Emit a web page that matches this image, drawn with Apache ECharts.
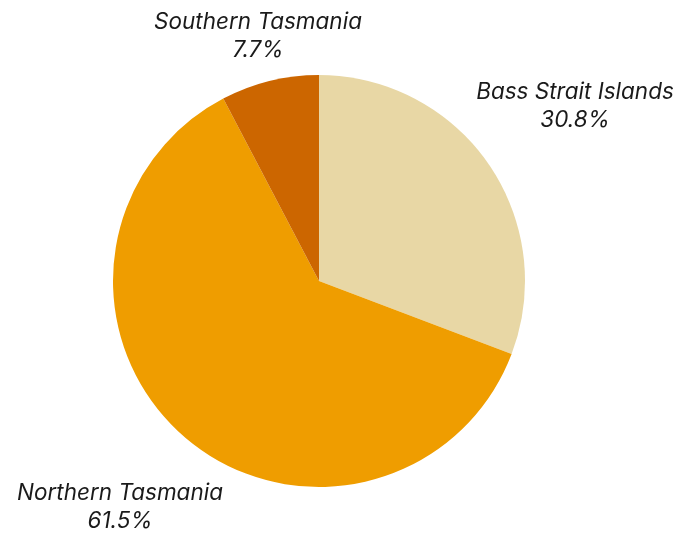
<!DOCTYPE html>
<html><head><meta charset="utf-8">
<script src="https://cdn.jsdelivr.net/npm/echarts@6/dist/echarts.min.js"></script>
<style>html,body{margin:0;padding:0;background:#fff}#c{width:680px;height:535px}</style>
</head><body><div id="c"></div>
<script>
const categories = ["Bass Strait Islands", "Northern Tasmania", "Southern Tasmania"];
const values = [4, 8, 1];
const percentLabels = ["30.8%", "61.5%", "7.7%"];
const colors = ["#E8D7A5", "#EF9D00", "#CC6600"];

const labelPos = [[575, 106], [120, 507], [258, 36]];

const chart = echarts.init(document.getElementById('c'));
chart.setOption({
  animation: false,
  series: [{
    type: 'pie',
    center: [319, 281],
    radius: 206,
    startAngle: 90,
    clockwise: true,
    data: categories.map((c, i) => ({ name: c, value: values[i], itemStyle: { color: colors[i] } })),
    label: {
      show: true,
      position: 'outside',
      formatter: p => p.name + '\n' + percentLabels[p.dataIndex],
      fontFamily: 'Inter',
      fontStyle: 'italic',
      fontSize: 22.5,
      lineHeight: 28,
      color: '#1a1a1a',
      align: 'center',
      overflow: 'none',
      width: 300,
      edgeDistance: 0,
      bleedMargin: 0
    },
    labelLine: { show: false },
    labelLayout: function (params) {
      const p = labelPos[params.dataIndex];
      return { x: p[0], y: p[1], align: 'center', verticalAlign: 'middle' };
    },
    emphasis: { disabled: true }
  }]
});
</script></body></html>
